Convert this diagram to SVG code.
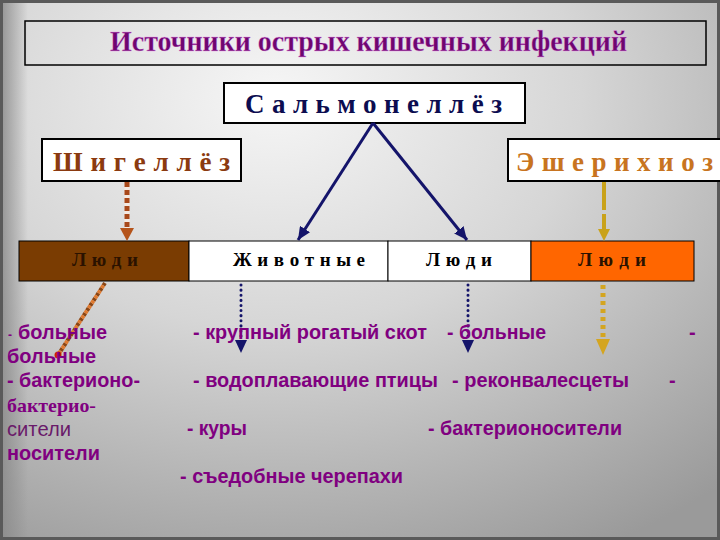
<svg xmlns="http://www.w3.org/2000/svg" width="720" height="540" viewBox="0 0 720 540">
<defs>
<radialGradient id="bg" cx="0.38" cy="0.18" r="0.95">
<stop offset="0" stop-color="#f6f6f6"/>
<stop offset="0.45" stop-color="#d6d6d6"/>
<stop offset="1" stop-color="#9a9a9a"/>
</radialGradient>
<linearGradient id="leftEdge" x1="0" y1="0" x2="1" y2="0">
<stop offset="0" stop-color="#8a8a8a" stop-opacity="0.9"/>
<stop offset="1" stop-color="#8a8a8a" stop-opacity="0"/>
</linearGradient>
<marker id="navyHead" markerUnits="userSpaceOnUse" markerWidth="14" markerHeight="12" refX="13" refY="6" orient="auto">
<path d="M0,0 L13,6 L0,12 z" fill="#14146a"/>
</marker>
</defs>
<style>
.box{fill:#ffffff;stroke:#000000;stroke-width:2}
.serifB{font-family:"Liberation Serif","Times New Roman",serif;font-weight:bold}
.sansB{font-family:"Liberation Sans",Arial,sans-serif;font-weight:bold;font-size:20px;fill:#800080}
.cell{stroke:#000000;stroke-width:1}
.celltxt{font-family:"Liberation Serif","Times New Roman",serif;font-weight:bold;font-size:19px}
</style>
<rect x="0" y="0" width="720" height="540" fill="url(#bg)"/>
<rect x="0" y="0" width="28" height="540" fill="url(#leftEdge)"/>
<rect x="1.5" y="1.5" width="717" height="537" fill="none" stroke="#5a5a5a" stroke-width="3"/>

<g id="title">
<rect x="25" y="21" width="681" height="44" fill="none" stroke="#000000" stroke-width="1.5"/>
<text class="serifB" x="110" y="51" font-size="29" fill="#6e0670" textLength="517" lengthAdjust="spacingAndGlyphs" stroke="#e8a0e8" stroke-width="0.3">Источники острых кишечных инфекций</text>
</g>

<g id="salmonellosis">
<rect class="box" x="224" y="83" width="301" height="40"/>
<text class="serifB" x="245" y="113" font-size="27" fill="#0c0c50" textLength="257">С а л ь м о н е л л ё з</text>
</g>

<g id="shigellosis">
<rect class="box" x="42" y="139" width="199" height="42" stroke-width="1.5"/>
<text class="serifB" x="53" y="171" font-size="27" fill="#8b3a10" textLength="177">Ш и г е л л ё з</text>
</g>

<g id="escherichiosis">
<rect class="box" x="508" y="139" width="220" height="42" stroke-width="1.5"/>
<text class="serifB" x="516" y="171" font-size="27" fill="#c87420" textLength="197">Э ш е р и х и о з</text>
</g>

<g id="row">
<g id="cell-people-shig">
<rect class="cell" x="19" y="241" width="170" height="40" fill="#7a3c02"/>
<text class="celltxt" x="72" y="266" fill="#2a1200" textLength="66">Л ю д и</text>
</g>
<g id="cell-animals">
<rect class="cell" x="189" y="241" width="199" height="40" fill="#ffffff"/>
<text class="celltxt" x="233" y="266" fill="#000000" textLength="132">Ж и в о т н ы е</text>
</g>
<g id="cell-people-salm">
<rect class="cell" x="388" y="241" width="143" height="40" fill="#ffffff"/>
<text class="celltxt" x="426" y="266" fill="#000000" textLength="66">Л ю д и</text>
</g>
<g id="cell-people-esch">
<rect class="cell" x="531" y="241" width="163" height="40" fill="#ff6600"/>
<text class="celltxt" x="578" y="266" fill="#2a1200" textLength="68">Л ю д и</text>
</g>
</g>

<g id="connectors">
<line x1="373" y1="123" x2="298" y2="240" stroke="#14146a" stroke-width="3" marker-end="url(#navyHead)"/>
<line x1="373" y1="123" x2="467" y2="240" stroke="#14146a" stroke-width="3" marker-end="url(#navyHead)"/>
<line x1="127" y1="182" x2="127" y2="229" stroke="#f4e8e0" stroke-width="5"/>
<line x1="127" y1="182" x2="127" y2="229" stroke="#a8481a" stroke-width="5" stroke-dasharray="5 3"/>
<polygon points="120,228 134,228 127,241" fill="#b5541b"/>
<line x1="604" y1="182" x2="604" y2="230" stroke="#c9a21a" stroke-width="4" stroke-dasharray="28 4 20"/>
<polygon points="598,229 610,229 604,241" fill="#c9a21a"/>
<line x1="241" y1="285" x2="241" y2="341" stroke="#14146a" stroke-width="3" stroke-linecap="round" stroke-dasharray="0.1 5"/>
<polygon points="235,340 247,340 241,353" fill="#14146a"/>
<line x1="468" y1="285" x2="468" y2="341" stroke="#14146a" stroke-width="3" stroke-linecap="round" stroke-dasharray="0.1 5"/>
<polygon points="462,340 474,340 468,353" fill="#14146a"/>
<line x1="603" y1="285" x2="603" y2="340" stroke="#d4a520" stroke-width="5" stroke-dasharray="4 4"/>
<polygon points="596,339 610,339 603,355" fill="#d4a520"/>
<line x1="105" y1="283" x2="58" y2="355" stroke="#8b4513" stroke-width="4" stroke-dasharray="3 3"/>
<line x1="105" y1="283" x2="58" y2="355" stroke="#e07a30" stroke-width="4" stroke-dasharray="3 3" stroke-dashoffset="3"/>
<circle cx="58" cy="355" r="3.5" fill="#cc2200"/>
</g>

<g id="labels">
<text class="sansB" x="8" y="339"><tspan font-size="12">-</tspan><tspan x="18" textLength="89" lengthAdjust="spacingAndGlyphs">больные</tspan></text>
<text class="sansB" x="7" y="363" textLength="89" lengthAdjust="spacingAndGlyphs">больные</text>
<text class="sansB" x="7" y="387" textLength="133" lengthAdjust="spacingAndGlyphs">- бактерионо-</text>
<text class="serifB" x="7" y="412" font-size="19" fill="#800080" textLength="89" lengthAdjust="spacingAndGlyphs">бактерио-</text>
<text x="7" y="436" font-family="Liberation Sans, Arial, sans-serif" font-size="20" fill="#6a1a6a" textLength="64" lengthAdjust="spacingAndGlyphs">сители</text>
<text class="sansB" x="7" y="460" textLength="93" lengthAdjust="spacingAndGlyphs">носители</text>
<text class="sansB" x="193" y="339" textLength="234" lengthAdjust="spacingAndGlyphs">- крупный рогатый скот</text>
<text class="sansB" x="193" y="387" textLength="245" lengthAdjust="spacingAndGlyphs">- водоплавающие птицы</text>
<text class="sansB" x="187" y="435" textLength="60" lengthAdjust="spacingAndGlyphs">- куры</text>
<text class="sansB" x="180" y="483" textLength="223" lengthAdjust="spacingAndGlyphs">- съедобные черепахи</text>
<text class="sansB" x="447" y="339" textLength="99" lengthAdjust="spacingAndGlyphs">- больные</text>
<text class="sansB" x="452" y="387" textLength="177" lengthAdjust="spacingAndGlyphs">- реконвалесцеты</text>
<text class="sansB" x="428" y="435" textLength="194" lengthAdjust="spacingAndGlyphs">- бактерионосители</text>
<text class="sansB" x="689" y="339" fill="#3a1a3a">-</text>
<text class="sansB" x="669" y="387" fill="#3a1a3a">-</text>
</g>
</svg>
